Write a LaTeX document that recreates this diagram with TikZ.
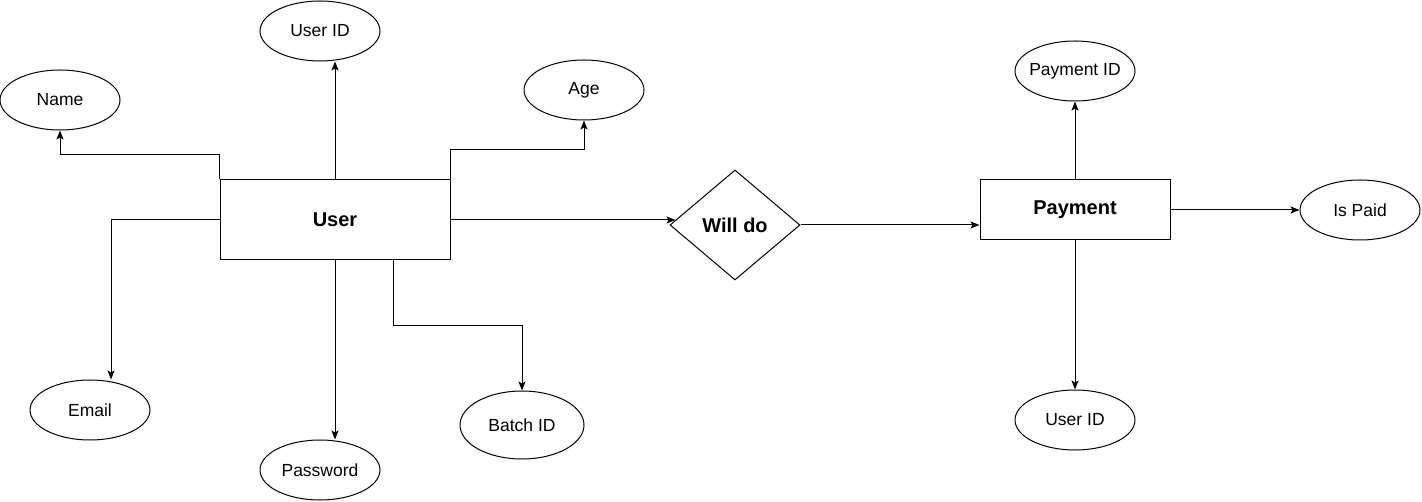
\documentclass[tikz,border=0pt]{standalone}
\usepackage{fontspec}
\setmainfont{Liberation Sans}
\usetikzlibrary{shapes.geometric,arrows.meta}

\begin{document}
\begin{tikzpicture}[x=1pt,y=-1pt,
  ent/.style={draw,line width=1pt,minimum width=230pt,minimum height=80pt,font=\fontsize{20}{24}\selectfont\bfseries},
  rel/.style={draw,diamond,line width=1pt,inner sep=0pt,minimum width=130pt,minimum height=110pt,font=\fontsize{20}{24}\selectfont\bfseries},
  attr/.style={draw,ellipse,line width=1pt,inner sep=0pt,inner xsep=-16pt,minimum width=120pt,minimum height=60pt,font=\fontsize{17.5}{21}\selectfont},
  link/.style={line width=1pt,-{Stealth[length=9pt,width=7pt,inset=2pt]}}]
\useasboundingbox (0,0) rectangle (1422,502);
% entities and relation
\node[ent] (user) at (335,220) {User};
\node[ent,minimum width=190pt,minimum height=60pt] (pay) at (1075,210) {Payment};
\node[rel] (willdo) at (735,225) {Will do};
% attributes
\foreach \n/\x/\y/\t in {name/60/100/Name, uid/320/31/User ID, age/584/90/Age, email/90/410/Email, pwd/320/470/Password, pid/1075/71/Payment ID, uid2/1075/420/User ID, paid/1360/210/Is Paid}
    \node[attr] (\n) at (\x,\y) {\t};
\node[attr,minimum width=124pt,minimum height=68pt] (batch) at (522,425) {Batch ID};
% links
\draw[link] (user.north west) -- ++(0,-25) -| (name.south);
\draw[link] (user.north) -- (uid.south -| user.north);
\draw[link] (user.north east) -- ++(0,-30) -| (age.south);
\draw[link] (user.west) -| ([xshift=21pt]email.north);
\draw[link] (user.south) -- (pwd.north -| user.south);
\draw[link] ([xshift=-57pt]user.south east) -- ++(0,65) -| (batch.north);
\draw[link] (user.east) -- ([xshift=6pt,yshift=5pt]willdo.west);
\draw[link] (willdo.east) -- (willdo.east -| pay.west);
\draw[link] (pay.north) -- (pid.south);
\draw[link] (pay.south) -- (uid2.north);
\draw[link] (pay.east) -- (paid.west);
\end{tikzpicture}
\end{document}
